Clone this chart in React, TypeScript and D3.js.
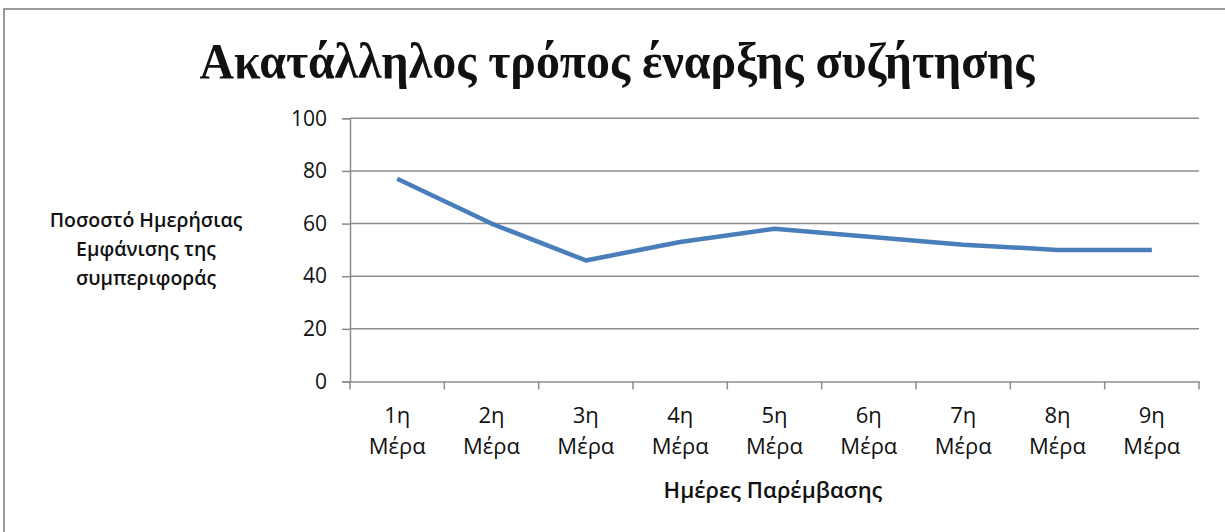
import { useEffect, useRef } from "react";
import * as d3 from "d3";

const days = ["1η", "2η", "3η", "4η", "5η", "6η", "7η", "8η", "9η"];
const values = [77, 60, 46, 53, 58, 55, 52, 50, 50];
const yTicks = [0, 20, 40, 60, 80, 100];
const titleText = "Ακατάλληλος τρόπος έναρξης συζήτησης";
const yTitleLines = ["Ποσοστό Ημερήσιας", "Εμφάνισης της", "συμπεριφοράς"];
const xTitleText = "Ημέρες Παρέμβασης";

const App: React.FC = () => {
    const svgRef = useRef<SVGSVGElement>(null);
    useEffect(() => {
        const svg = d3.select(svgRef.current);
        svg.selectAll("*").remove();

        const left = 350, right = 1199, top = 118.3, bottom = 381.5;
        const sans = "'Open Sans', 'Noto Sans', sans-serif";

        // frame
        svg.append("rect")
            .attr("x", 4).attr("y", 9)
            .attr("width", 1240).attr("height", 540)
            .attr("fill", "white")
            .attr("stroke", "#9a9a9a").attr("stroke-width", 2);

        // title
        svg.append("text")
            .attr("x", 617).attr("y", 78)
            .attr("text-anchor", "middle")
            .attr("font-family", "'Liberation Serif', serif")
            .attr("font-weight", "bold")
            .attr("font-size", 50)
            .attr("textLength", 835)
            .attr("lengthAdjust", "spacingAndGlyphs")
            .attr("fill", "#111")
            .text(titleText);

        const x = d3.scaleBand().domain(days).range([left, right]);
        const y = d3.scaleLinear().domain([0, 100]).range([bottom, top]);

        // grid lines
        svg.append("g")
            .selectAll("line")
            .data(yTicks.filter(d => d > 0))
            .enter()
            .append("line")
            .attr("x1", left).attr("x2", right)
            .attr("y1", d => y(d)).attr("y2", d => y(d))
            .attr("stroke", "#8c8c8c").attr("stroke-width", 1.5);

        // y axis
        const yAxis = svg.append("g")
            .attr("transform", "translate(" + left + ",0)")
            .call(d3.axisLeft(y).tickValues(yTicks).tickSize(8).tickPadding(15));
        yAxis.select(".domain").attr("stroke", "#8c8c8c").attr("stroke-width", 1.5);
        yAxis.selectAll(".tick line").attr("stroke", "#8c8c8c").attr("stroke-width", 1.5);
        yAxis.selectAll(".tick text")
            .attr("font-family", sans).attr("font-size", 21).attr("fill", "#111");

        // x axis
        const xAxis = svg.append("g")
            .attr("transform", "translate(0," + bottom + ")")
            .call(d3.axisBottom(x).tickSize(0).tickFormat(() => ""));
        xAxis.select(".domain").attr("stroke", "#8c8c8c").attr("stroke-width", 1.5);
        xAxis.selectAll(".tick line").remove();
        svg.append("g")
            .selectAll("line")
            .data(d3.range(days.length + 1))
            .enter()
            .append("line")
            .attr("x1", i => left + i * x.step()).attr("x2", i => left + i * x.step())
            .attr("y1", bottom).attr("y2", bottom + 8)
            .attr("stroke", "#8c8c8c").attr("stroke-width", 1.5);

        const labels = svg.append("g")
            .selectAll("text")
            .data(days)
            .enter()
            .append("text")
            .attr("x", d => (x(d) as number) + x.bandwidth() / 2)
            .attr("text-anchor", "middle")
            .attr("font-family", sans).attr("font-size", 22).attr("fill", "#111");
        labels.append("tspan").attr("x", d => (x(d) as number) + x.bandwidth() / 2).attr("y", 423).text(d => d);
        labels.append("tspan").attr("x", d => (x(d) as number) + x.bandwidth() / 2).attr("y", 454).text("Μέρα");

        // axis titles
        svg.append("text")
            .attr("x", 773).attr("y", 498)
            .attr("text-anchor", "middle")
            .attr("font-family", sans).attr("font-size", 22).attr("font-weight", 600)
            .attr("fill", "#111")
            .text(xTitleText);

        svg.append("g")
            .selectAll("text")
            .data(yTitleLines)
            .enter()
            .append("text")
            .attr("x", 146)
            .attr("y", (_, i) => 227 + i * 29)
            .attr("text-anchor", "middle")
            .attr("font-family", sans).attr("font-size", 19.5).attr("font-weight", 600)
            .attr("fill", "#111")
            .text(d => d);

        // line
        const line = d3.line<number>()
            .x((_, i) => (x(days[i]) as number) + x.bandwidth() / 2)
            .y(d => y(d));
        svg.append("path")
            .datum(values)
            .attr("d", line)
            .attr("fill", "none")
            .attr("stroke", "#4a7ebb")
            .attr("stroke-width", 4.5)
            .attr("stroke-linejoin", "round");
    }, []);

    return (
        <svg ref={svgRef} width={1225} height={532}
            style={{ position: "absolute", left: 0, top: 0, background: "white" }}></svg>
    );
};

export default App;
